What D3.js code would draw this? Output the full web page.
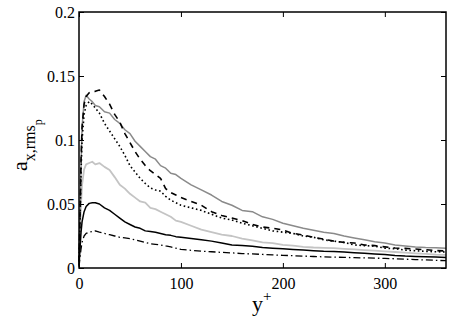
<!DOCTYPE html>
<html><head><meta charset="utf-8">
<script src="https://cdn.jsdelivr.net/npm/d3@7"></script>
<style>body{margin:0;background:#fff}svg{display:block}text{font-family:"Liberation Serif","Times New Roman",serif}</style>
</head><body><svg id="c" width="464" height="332"></svg>
<script>
const yPlus = [0,1,2,3,5,7,10,13,16,20,25,30,35,40,45,50,55,60,65,70,75,80,85,90,95,100,110,120,130,140,150,160,170,180,190,200,210,220,230,240,250,260,270,280,290,300,310,320,330,340,350,360];
const grayLine = [0.005,0.04,0.08,0.11,0.13,0.135,0.132,0.130,0.127,0.126,0.122,0.121,0.116,0.113,0.108,0.105,0.099,0.095,0.091,0.087,0.085,0.080,0.078,0.074,0.073,0.070,0.065,0.061,0.057,0.052,0.049,0.045,0.044,0.040,0.038,0.035,0.033,0.031,0.0295,0.028,0.027,0.025,0.0235,0.022,0.0205,0.0195,0.018,0.0172,0.0165,0.016,0.0158,0.0155];
const dashedLine = [0.005,0.04,0.085,0.11,0.128,0.134,0.137,0.138,0.138,0.139,0.134,0.128,0.120,0.114,0.105,0.098,0.091,0.085,0.080,0.076,0.073,0.070,0.062,0.059,0.057,0.055,0.052,0.049,0.044,0.041,0.039,0.037,0.034,0.032,0.031,0.0297,0.027,0.0258,0.024,0.0225,0.021,0.020,0.0195,0.018,0.0175,0.0165,0.0156,0.0153,0.0148,0.0143,0.0136,0.0133];
const dottedLine = [0.005,0.035,0.075,0.10,0.12,0.127,0.130,0.128,0.125,0.121,0.113,0.107,0.101,0.095,0.088,0.080,0.075,0.070,0.066,0.0625,0.061,0.060,0.056,0.053,0.051,0.049,0.047,0.045,0.042,0.039,0.0375,0.035,0.033,0.031,0.029,0.028,0.027,0.025,0.024,0.022,0.021,0.020,0.018,0.0175,0.017,0.0155,0.015,0.014,0.0135,0.013,0.0127,0.0125];
const lightLine = [0.003,0.025,0.05,0.065,0.077,0.081,0.082,0.083,0.081,0.082,0.079,0.0766,0.071,0.065,0.062,0.058,0.055,0.052,0.051,0.047,0.046,0.044,0.042,0.040,0.037,0.036,0.033,0.030,0.028,0.026,0.025,0.023,0.0215,0.020,0.0195,0.018,0.0175,0.0165,0.016,0.0158,0.0155,0.015,0.0145,0.014,0.0135,0.013,0.0125,0.012,0.0115,0.011,0.0105,0.0102];
const blackLine = [0.002,0.015,0.028,0.036,0.044,0.048,0.0505,0.051,0.051,0.050,0.047,0.045,0.042,0.039,0.036,0.034,0.032,0.031,0.029,0.0285,0.028,0.027,0.026,0.0255,0.0245,0.024,0.023,0.022,0.021,0.0195,0.018,0.0175,0.017,0.016,0.0155,0.015,0.0145,0.014,0.0135,0.013,0.0128,0.0125,0.012,0.0115,0.011,0.0105,0.0098,0.0093,0.009,0.0087,0.0085,0.0082];
const dashDotLine = [0.001,0.008,0.015,0.020,0.025,0.027,0.028,0.0285,0.029,0.028,0.027,0.026,0.025,0.024,0.0235,0.023,0.022,0.021,0.020,0.019,0.0185,0.018,0.0172,0.0165,0.0155,0.0145,0.0138,0.0132,0.0127,0.0122,0.0118,0.0113,0.011,0.0106,0.0102,0.0099,0.0096,0.0093,0.009,0.0087,0.0085,0.0083,0.0081,0.0079,0.0077,0.0075,0.0072,0.0069,0.0066,0.0063,0.006,0.0057];
const xTicks = [0,100,200,300];
const yTicks = [0,0.05,0.1,0.15,0.2];
const yTickLabels = ["0","0.05","0.1","0.15","0.2"];

(function(){
const L=79, R=446, T=12, B=268;
const svg=d3.select("#c");
const x=d3.scaleLinear().domain([0,360]).range([L,R]);
const y=d3.scaleLinear().domain([0,0.2]).range([B,T]);

const series=[
 {v:lightLine, color:"#c4c4c4", w:1.8, dash:null},
 {v:grayLine, color:"#8a8a8a", w:1.5, dash:null},
 {v:blackLine, color:"#000", w:1.5, dash:null},
 {v:dashDotLine, color:"#000", w:1.3, dash:"7,3,1.5,3"},
 {v:dottedLine, color:"#000", w:1.6, dash:"1.6,2.6"},
 {v:dashedLine, color:"#000", w:1.6, dash:"6,5"}
];
const line=d3.line().x((d,i)=>x(yPlus[i])).y(d=>y(d));
const g=svg.append("g");
series.forEach(s=>{
 g.append("path").attr("d",line(s.v)).attr("fill","none").attr("stroke",s.color)
  .attr("stroke-width",s.w).attr("stroke-dasharray",s.dash).attr("stroke-linejoin","round");
});

const fs=16;
const axB=svg.append("g").attr("transform",`translate(0,${B})`).call(d3.axisBottom(x).tickValues(xTicks).tickSizeInner(-5).tickSizeOuter(0).tickPadding(10));
const axT=svg.append("g").attr("transform",`translate(0,${T})`).call(d3.axisTop(x).tickValues(xTicks).tickSizeInner(-5).tickSizeOuter(0).tickFormat(""));
const axL=svg.append("g").attr("transform",`translate(${L},0)`).call(d3.axisLeft(y).tickValues(yTicks).tickFormat((d,i)=>yTickLabels[i]).tickSizeInner(-5).tickSizeOuter(0).tickPadding(4));
const axR=svg.append("g").attr("transform",`translate(${R},0)`).call(d3.axisRight(y).tickValues(yTicks).tickSizeInner(-5).tickSizeOuter(0).tickFormat(""));
[axB,axT,axL,axR].forEach(a=>{
 a.select(".domain").remove();
 a.selectAll("line").attr("stroke","#000").attr("stroke-width",1);
 a.selectAll("text").attr("fill","#000").style("font-size",fs+"px").style("font-family","'Liberation Serif',serif");
});
svg.append("rect").attr("x",L).attr("y",T).attr("width",R-L).attr("height",B-T)
 .attr("fill","none").attr("stroke","#000").attr("stroke-width",1.5);

const xl=svg.append("text").attr("x",252).attr("y",311).attr("fill","#000").style("font-size","22px");
xl.append("tspan").text("y");
xl.append("tspan").attr("dy",-10).style("font-size","15px").text("+");

const yl=svg.append("text").attr("transform","translate(27,171) rotate(-90)").attr("fill","#000").style("font-size","22px");
yl.append("tspan").text("a");
yl.append("tspan").attr("dy",8).style("font-size","16px").text("x,rms");
yl.append("tspan").attr("dy",7).style("font-size","12px").text("p");
})();
</script></body></html>
